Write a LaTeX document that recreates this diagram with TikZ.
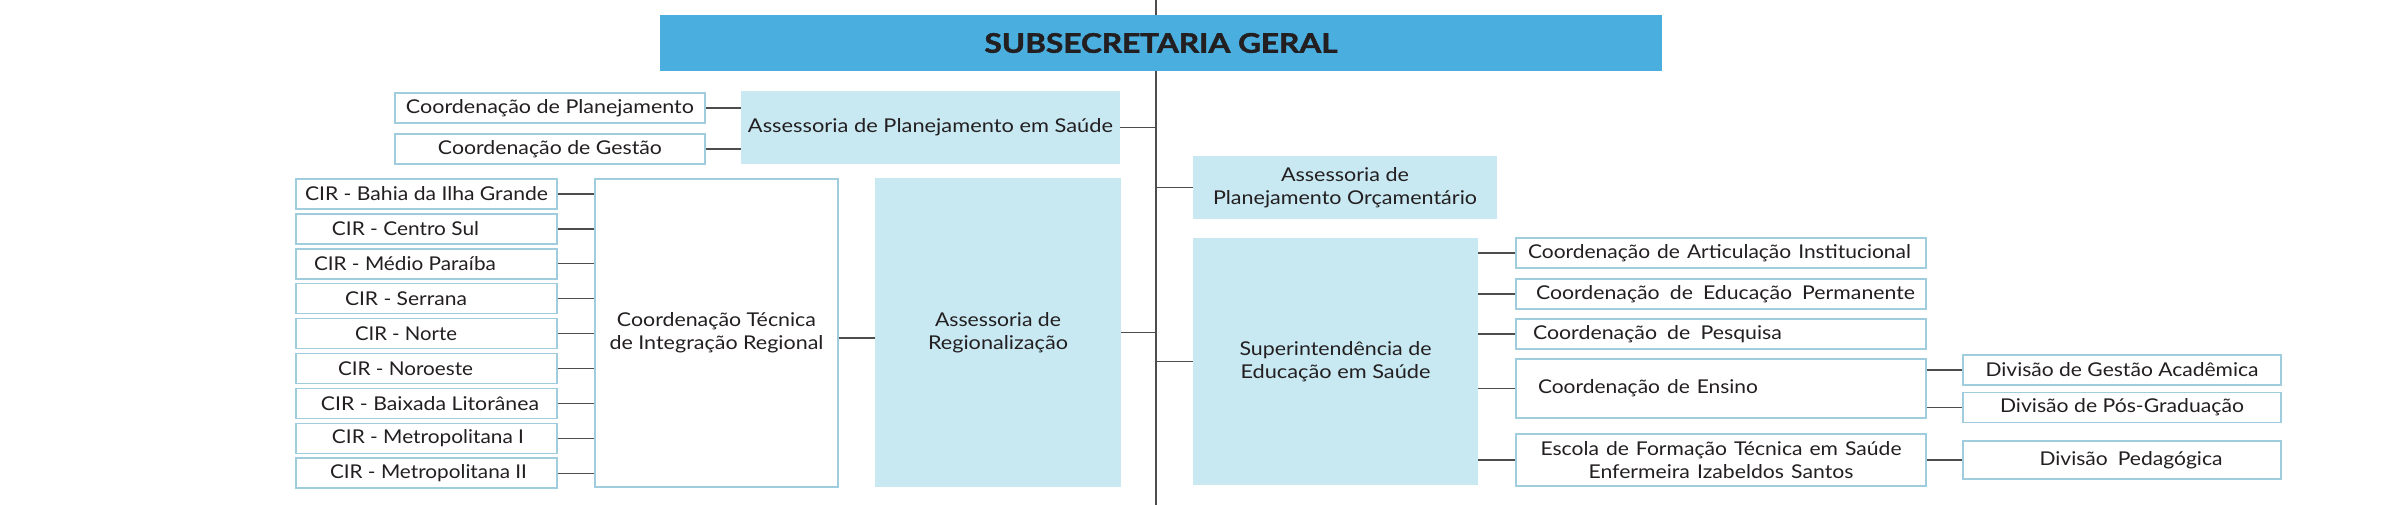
\documentclass[tikz,border=0pt]{standalone}
\usepackage{fontspec}
\setmainfont{Lato}
\newfontfamily\titlefont{Lato}[BoldFeatures={FakeBold=1.6}]
\usepackage{graphicx}
\usepackage{xcolor}
\usepackage{tikz}
\definecolor{geralblue}{HTML}{4AAEDF}
\definecolor{paleblue}{HTML}{C8E8F2}
\definecolor{edgeblue}{HTML}{A0CDDE}
\definecolor{linegray}{HTML}{4D4D4D}
\definecolor{textdark}{HTML}{231F20}
\newcommand{\fitw}[2]{\resizebox{#1pt}{\height}{#2}}
\begin{document}
\begin{tikzpicture}[x=1pt,y=-1pt,
    every node/.style={font=\fontsize{19}{23}\selectfont, text=textdark},
    topbox/.style={fill=geralblue, minimum width=1002pt, minimum height=56pt, font=\titlefont\bfseries\fontsize{27}{30}\selectfont},
    fillbox/.style={fill=paleblue, align=center},
    linebox/.style={draw=edgeblue, line width=1.5pt, fill=white, align=center},
    coordbox/.style={linebox, minimum height=30pt, inner xsep=12pt, text width=386pt, align=left},
    divbox/.style={linebox, minimum width=318pt, minimum height=30pt},
    link/.style={draw=linegray, line width=1.3pt}]
        \useasboundingbox (0,0) rectangle (2397,505);
        \coordinate (trunktop) at (1156,0);
        \coordinate (trunkbot) at (1156,505);
        \draw[link] (trunktop) -- (trunkbot);
        \node[topbox] (geral) at (1161,43) {\fitw{353}{SUBSECRETARIA GERAL}};
        \node[linebox, minimum width=310pt, minimum height=30pt] (cplan) at (550,108) {\fitw{288}{Coordenação de Planejamento}};
        \node[linebox, minimum width=310pt, minimum height=30pt] (cgest) at (550,149) {\fitw{224}{Coordenação de Gestão}};
        \node[fillbox, minimum width=379pt, minimum height=73pt] (asplan) at (930.5,127.5) {\fitw{365}{Assessoria de Planejamento em Saúde}};
        \foreach \name/\w/\dx [count=\i from 0] in {Bahia da Ilha Grande/243/0, Centro Sul/147/21, Médio Paraíba/182/21.5, Serrana/122/20.5, Norte/102/20.5, Noroeste/135/21, Baixada Litorânea/218/-3.5, Metropolitana I/192/-1.5, Metropolitana II/197/-2}
            \node[linebox, minimum width=261pt, minimum height=30pt] (cir\i) at (426.5,194+34.9*\i) {\kern-\dx pt\fitw{\w}{CIR - \name}\kern\dx pt};
        \node[linebox, minimum width=243pt, minimum height=308pt] (ctec) at (716.5,333) {\fitw{199}{Coordenação Técnica}\\\fitw{214}{de Integração Regional}};
        \node[fillbox, minimum width=246pt, minimum height=309pt] (asreg) at (998,332.5) {\fitw{126}{Assessoria de}\\\fitw{140}{Regionalização}};
        \node[fillbox, minimum width=304pt, minimum height=63pt] (asorc) at (1345,187.5) {\fitw{128}{Assessoria de}\\\fitw{264}{Planejamento Orçamentário}};
        \node[fillbox, minimum width=285pt, minimum height=247pt] (supeduc) at (1335.5,361.5) {\fitw{192}{Superintendência de}\\\fitw{190}{Educação em Saúde}};
        \node[coordbox] (artic) at (1721,253) {\fitw{383}{Coordenação de Articulação Institucional}};
        \node[coordbox] (educ) at (1721,294) {\hspace*{8pt}\fitw{379}{Coordenação\hspace{9pt}de\hspace{9pt}Educação\hspace{9pt}Permanente}};
        \node[coordbox] (pesq) at (1721,334) {\hspace*{5pt}\fitw{249}{Coordenação\hspace{9pt}de\hspace{9pt}Pesquisa}};
        \node[coordbox, minimum height=59pt] (ensino) at (1721,388.5) {\hspace*{10pt}\fitw{220}{Coordenação de Ensino}};
        \node[coordbox, minimum height=52pt, align=center] (escola) at (1721,460) {\fitw{361}{Escola de Formação Técnica em Saúde}\\\fitw{265}{Enfermeira Izabeldos Santos}};
        \node[divbox] (dgest) at (2122,370) {\fitw{273}{Divisão de Gestão Acadêmica}};
        \node[divbox] (dpos) at (2122,407.5) {\fitw{244}{Divisão de Pós-Graduação}};
        \node[divbox, minimum height=38pt] (dped) at (2122,460) {\kern9pt\fitw{183}{Divisão\hspace{9pt}Pedagógica}\kern-9pt};
        \draw[link] (cplan.east) -- (cplan.east -| asplan.west);
        \draw[link] (cgest.east) -- (cgest.east -| asplan.west);
        \draw[link] (asplan.east) -- (asplan.east -| trunktop);
        \foreach \i in {0,...,8}
            \draw[link] (cir\i.east) -- (cir\i.east -| ctec.west);
        \draw[link] ([yshift=-5pt]ctec.east) -- ([yshift=-5pt]ctec.east -| asreg.west);
        \draw[link] (asreg.east) -- (asreg.east -| trunktop);
        \draw[link] (asorc.west -| trunktop) -- (asorc.west);
        \draw[link] (supeduc.west -| trunktop) -- (supeduc.west);
        \foreach \n in {artic,educ,pesq,ensino,escola}
            \draw[link] (\n.west -| supeduc.east) -- (\n.west);
        \draw[link] (dgest.west -| ensino.east) -- (dgest.west);
        \draw[link] (dpos.west -| ensino.east) -- (dpos.west);
        \draw[link] (escola.east) -- (dped.west);
    \end{tikzpicture}
\end{document}
